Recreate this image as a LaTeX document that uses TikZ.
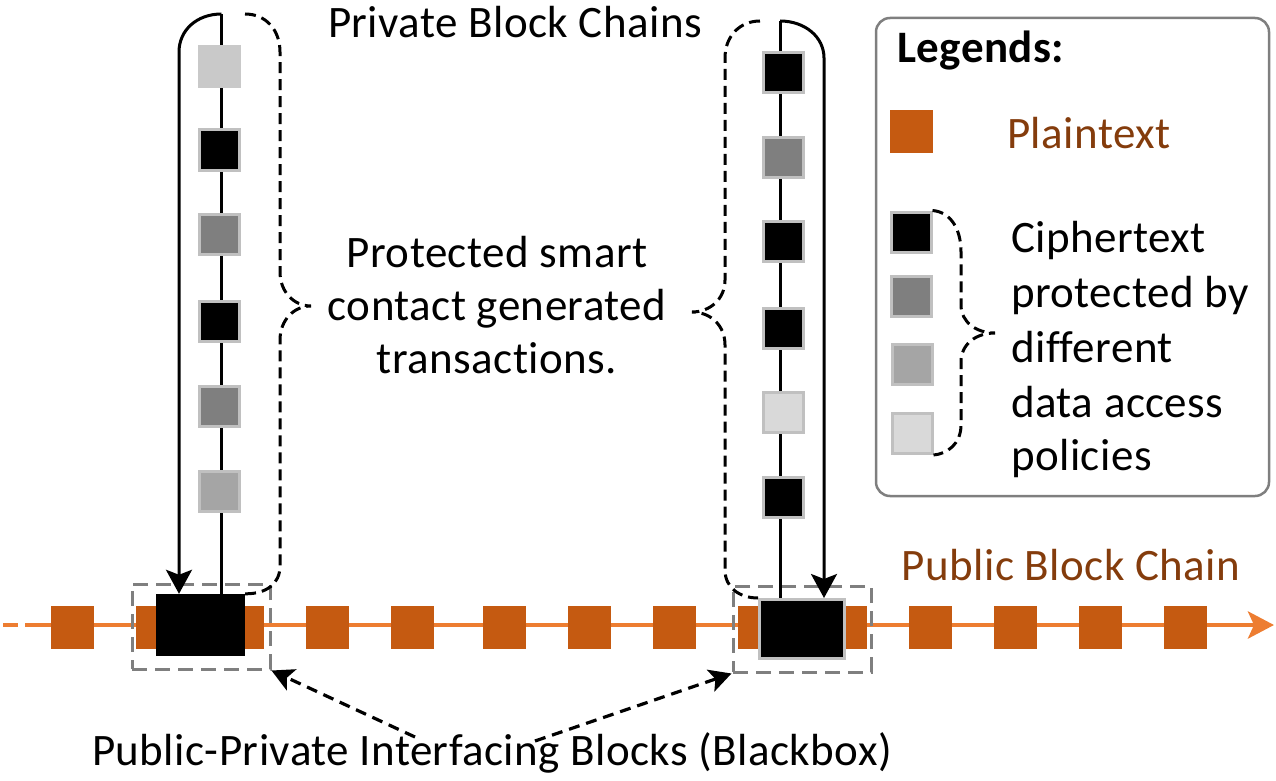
\documentclass[tikz,border=0pt]{standalone}
\usepackage{fontspec}
\setmainfont{Carlito}[Ligatures=NoCommon, LetterSpace=1]
\usetikzlibrary{arrows.meta}
\definecolor{oline}{HTML}{ED7D31}
\definecolor{obox}{HTML}{C55A11}
\definecolor{brown}{HTML}{843C0C}
\definecolor{gdark}{HTML}{7F7F7F}
\definecolor{gmid}{HTML}{A5A5A5}
\definecolor{glight}{HTML}{D9D9D9}
\definecolor{gtop}{HTML}{C9C9C9}
\definecolor{sqborder}{HTML}{C0C0C0}
\definecolor{frame}{HTML}{7F7F7F}
\tikzset{
  txt/.style={font=\fontsize{45}{54}\selectfont, inner sep=0pt},
  sq/.style={minimum size=40pt, inner sep=0pt, draw=sqborder, line width=3pt},
  osq/.style={minimum size=43pt, inner sep=0pt, fill=obox},
  chainline/.style={line width=3pt, black},
  solidarr/.style={line width=3pt, black, -{Stealth[length=24pt,width=26pt,inset=5pt]}},
  dbrace/.style={line width=3pt, black, dash pattern=on 11pt off 6pt},
  dbox/.style={draw=frame, line width=3pt, dash pattern=on 15pt off 8pt, inner sep=0pt},
  darr/.style={line width=3.2pt, black, dash pattern=on 11pt off 7pt, -{Stealth[length=22pt,width=23pt,inset=5pt]}},
}
\begin{document}
\begin{tikzpicture}[x=1pt,y=-1pt]
\useasboundingbox (0,0) rectangle (1276,781);

% public chain line
\coordinate (P0) at (3,625);
\coordinate (P1) at (40,625);
\coordinate (P2) at (1274,625);
\draw[oline, line width=4.5pt, dash pattern=on 15pt off 7pt] (P0) -- (P1);
\draw[oline, line width=4.5pt, -{Stealth[length=26pt,width=27pt,inset=6pt]}] (P1) -- (P2);

% orange blocks
\foreach \x [count=\i] in {72,157.5,242.5,327.5,412.5,504.5,589.5,674.5,759.5,845.5,930,1015,1100.5,1185}
  \node[osq] (o\i) at (\x,627.5) {};

% interfacing black boxes
\node[fill=black, minimum width=89pt, minimum height=62pt, inner sep=0pt] (bb1) at (200.5,625) {};
\node[fill=black, draw=sqborder, line width=3pt, minimum width=85pt, minimum height=59pt, inner sep=0pt] (bb2) at (802,629) {};

% dashed frames
\node[dbox, minimum width=138pt, minimum height=85pt] (db1) at (201,626.5) {};
\node[dbox, minimum width=138pt, minimum height=86pt] (db2) at (802,629) {};

% left private chain
\coordinate (L0) at (221.5,14);
\coordinate (LA) at (179,52);
\coordinate (LB) at (245,14);
\draw[chainline] (L0) -- (L0 |- bb1.north);
\draw[solidarr] (L0) .. controls (197,14) and (179,30) .. (LA) -- (LA |- bb1.north);
\draw[dbrace] (LB) .. controls (266,14) and (280,30) .. (280,52) -- (280,272)
  .. controls (280,292) and (294,306) .. (311,306)
  .. controls (294,306) and (280,320) .. (280,340) -- (280,566)
  .. controls (280,584) and (266,594) .. (bb1.north east);
\node[sq, fill=gtop, draw=gtop] (l1) at (219.5,66.5) {};
\node[sq, fill=black] (l2) at (219.5,150) {};
\node[sq, fill=gdark] (l3) at (219.5,234) {};
\node[sq, fill=black] (l4) at (219.5,321.5) {};
\node[sq, fill=gdark] (l5) at (219.5,406.5) {};
\node[sq, fill=gmid] (l6) at (219.5,491.5) {};

% right private chain
\coordinate (R0) at (780,21);
\coordinate (RA) at (824,58);
\coordinate (RB) at (760,21);
\draw[chainline] (R0) -- (R0 |- bb2.north);
\draw[solidarr] (R0) .. controls (805,21) and (824,37) .. (RA) -- (RA |- bb2.north);
\draw[dbrace] (RB) .. controls (740,21) and (725,36) .. (725,58) -- (725,280)
  .. controls (725,299) and (710,312) .. (692,312)
  .. controls (710,312) and (725,325) .. (725,345) -- (725,570)
  .. controls (725,588) and (740,598) .. (bb2.north west);
\node[sq, fill=black] (r1) at (783.5,73) {};
\node[sq, fill=gdark] (r2) at (783.5,157) {};
\node[sq, fill=black] (r3) at (783.5,241.5) {};
\node[sq, fill=black] (r4) at (783.5,328) {};
\node[sq, fill=glight] (r5) at (783.5,412.5) {};
\node[sq, fill=black] (r6) at (783.5,497.5) {};

% texts
\node[txt, anchor=base] (t1) at (515,38) {Private Block Chains};
\node[txt, anchor=base] (t2) at (497,267) {Protected smart};
\node[txt, anchor=base] (t3) at (497,320) {contact generated};
\node[txt, anchor=base] (t4) at (497,373) {transactions.};
\node[txt, anchor=base, text=brown] (t5) at (1071,580) {Public Block Chain};
\node[txt, anchor=base] (t6) at (492,765) {Public-Private Interfacing Blocks (Blackbox)};

% dashed arrows to interfacing blocks
\coordinate (D1) at (415,737);
\coordinate (D2) at (535,741);
\draw[darr] (D1) -- (db1.south east);
\draw[darr] (D2) -- (db2.south west);

% legend
\node[draw=frame, line width=2.5pt, rounded corners=14pt, minimum width=393pt, minimum height=478pt, inner sep=0pt] (leg) at (1072.5,257) {};
\node[txt, anchor=base west, font=\fontsize{45}{54}\selectfont\bfseries] (lg) at (897,63) {Legends:};
\node[osq] (k0) at (911,131.5) {};
\node[txt, anchor=base west, text=brown] (kp) at (1007,148) {Plaintext};
\node[sq, fill=black] (k1) at (911,232) {};
\node[sq, fill=gdark] (k2) at (911,296.5) {};
\node[sq, fill=gmid] (k3) at (912,364.5) {};
\node[sq, fill=glight] (k4) at (912,433.5) {};
\draw[dbrace] (k1.north east) .. controls (950,212) and (961,228) .. (961,252) -- (961,305)
  .. controls (961,322) and (976,333) .. (995,333)
  .. controls (976,333) and (961,344) .. (961,362) -- (961,425)
  .. controls (961,444) and (947,454) .. (k4.south east);
\node[txt, anchor=base west] (c1) at (1011,252) {Ciphertext};
\node[txt, anchor=base west] (c2) at (1011,307) {protected by};
\node[txt, anchor=base west] (c3) at (1011,362) {different};
\node[txt, anchor=base west] (c4) at (1011,417) {data access};
\node[txt, anchor=base west] (c5) at (1011,470) {policies};
\end{tikzpicture}
\end{document}
